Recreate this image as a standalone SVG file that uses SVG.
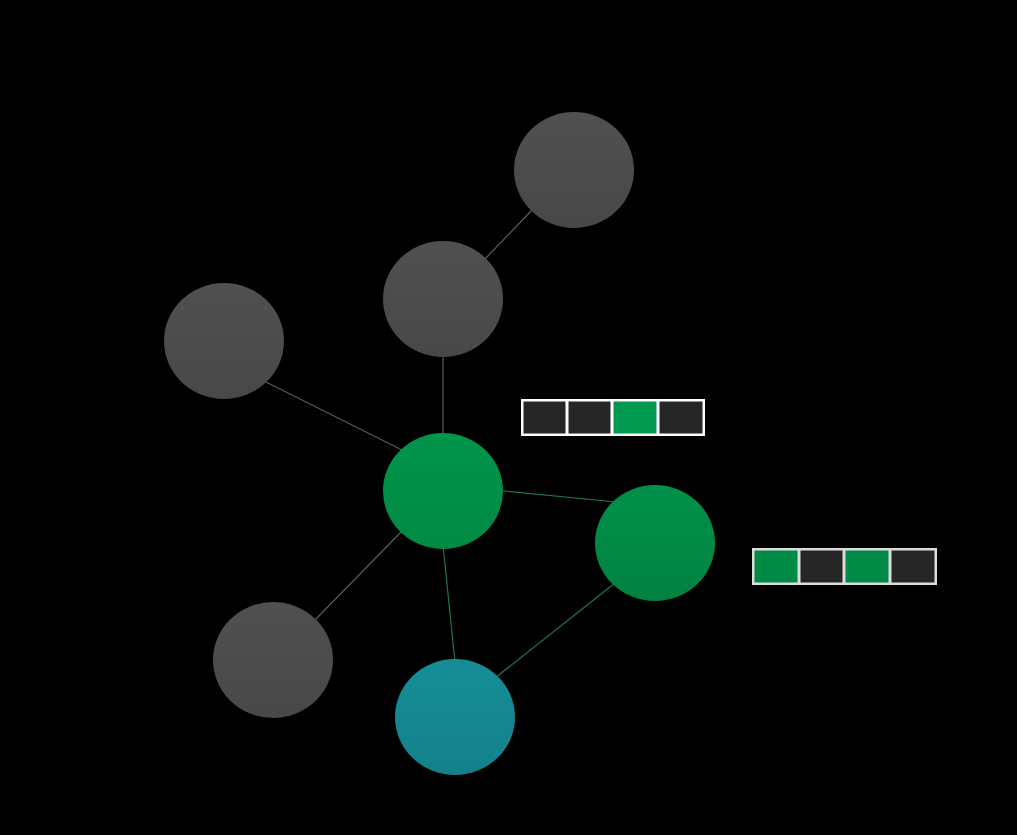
<svg xmlns="http://www.w3.org/2000/svg" width="1017" height="835" viewBox="0 0 1017 835">
<defs>
<linearGradient id="gGray" x1="0" y1="0" x2="0" y2="1"><stop offset="0" stop-color="#505050"/><stop offset="1" stop-color="#484848"/></linearGradient>
<linearGradient id="gGreen" x1="0" y1="0" x2="0" y2="1"><stop offset="0" stop-color="#00954a"/><stop offset="1" stop-color="#008a45"/></linearGradient>
<linearGradient id="gGreen2" x1="0" y1="0" x2="0" y2="1"><stop offset="0" stop-color="#00914a"/><stop offset="1" stop-color="#008241"/></linearGradient>
<linearGradient id="gTeal" x1="0" y1="0" x2="0" y2="1"><stop offset="0" stop-color="#168e97"/><stop offset="1" stop-color="#14818a"/></linearGradient>
</defs>
<style>
.edge{stroke:#5c5c5c;stroke-width:1.2;fill:none}
.edgeG{stroke:#1f7257;stroke-width:1.2;fill:none}
.cell{fill:#262626}
.cellG{fill:#00994f}
.cellG2{fill:#008a45}
</style>
<rect width="1017" height="835" fill="#000"/>
<g id="connectors">
<line class="edge" x1="533" y1="209" x2="484" y2="260"/>
<line class="edge" x1="443" y1="355" x2="443" y2="436"/>
<line class="edge" x1="264" y1="381" x2="404" y2="451"/>
<line class="edge" x1="403" y1="530" x2="314" y2="621"/>
<line class="edgeG" x1="500" y1="490.5" x2="616" y2="502"/>
<line class="edgeG" x1="443" y1="545" x2="455" y2="662"/>
<line class="edgeG" x1="615" y1="583" x2="495" y2="678"/>
</g>
<g id="node-top"><ellipse cx="574" cy="170" rx="60" ry="58" fill="url(#gGray)"/></g>
<g id="node-upper"><ellipse cx="443" cy="299" rx="60" ry="58" fill="url(#gGray)"/></g>
<g id="node-left"><ellipse cx="224" cy="341" rx="60" ry="58" fill="url(#gGray)"/></g>
<g id="node-center"><ellipse cx="443" cy="491" rx="60" ry="58" fill="url(#gGreen)"/></g>
<g id="node-right"><ellipse cx="655" cy="543" rx="60" ry="58" fill="url(#gGreen2)"/></g>
<g id="node-bottomleft"><ellipse cx="273" cy="660" rx="60" ry="58" fill="url(#gGray)"/></g>
<g id="node-teal"><ellipse cx="455" cy="717" rx="60" ry="58" fill="url(#gTeal)"/></g>
<g id="array1">
<rect x="521" y="399" width="184" height="37" fill="#fff"/>
<rect class="cell" x="523.5" y="401.5" width="42" height="32"/>
<rect class="cell" x="568.5" y="401.5" width="42" height="32"/>
<rect class="cellG" x="613.5" y="401.5" width="43" height="32"/>
<rect class="cell" x="659.5" y="401.5" width="43" height="32"/>
</g>
<g id="array2">
<rect x="752" y="548" width="185" height="37" fill="#dcdcdc"/>
<rect class="cellG2" x="754.5" y="550.5" width="43" height="32"/>
<rect class="cell" x="800.5" y="550.5" width="42" height="32"/>
<rect class="cellG2" x="845.5" y="550.5" width="43" height="32"/>
<rect class="cell" x="891.5" y="550.5" width="43" height="32"/>
</g>
</svg>
